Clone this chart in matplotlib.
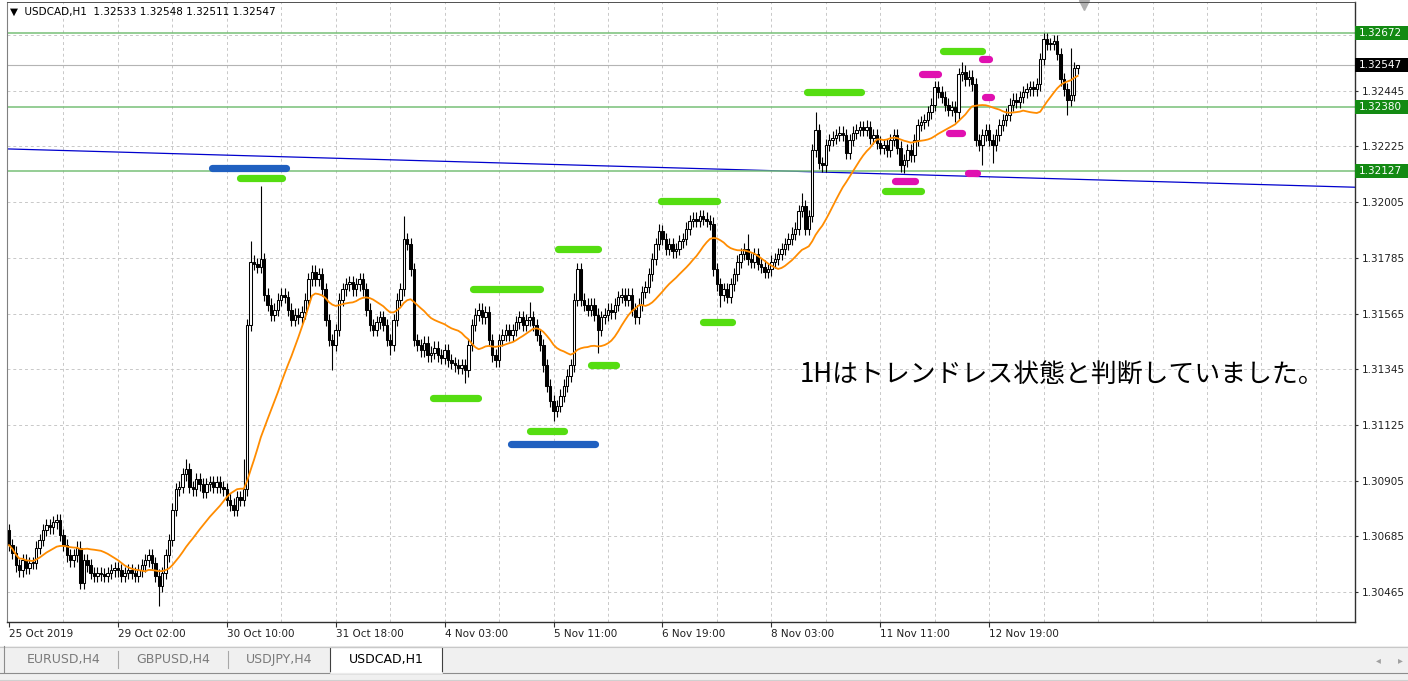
import numpy as np
import pandas as pd
import matplotlib
matplotlib.use('Agg')
import matplotlib.pyplot as plt
from matplotlib.patches import Rectangle
from matplotlib.transforms import blended_transform_factory

# USDCAD H1 closes, in pips above 1.3000
close_pips = [
    65, 62, 57, 55, 59, 56, 58, 58, 64, 67,
    71, 73, 72, 74, 75, 69, 65, 61, 59, 61,
    64, 50, 59, 57, 54, 53, 54, 53.5, 53, 54,
    55, 56, 55, 53, 54, 55, 54, 53, 55, 57,
    59, 61, 58, 53, 49, 54, 61, 67, 79, 87,
    88, 93, 95, 88, 87, 91, 89, 86, 89, 90,
    88, 90, 88, 87, 83, 81, 79, 84, 83, 87,
    152, 177, 176, 175, 178, 164, 160, 156, 158, 162,
    164, 163, 158, 154, 156, 155, 157, 162, 170, 173,
    170, 172, 166, 154, 146, 144, 150, 162, 166, 168,
    169, 166, 168, 170, 166, 158, 152, 150, 153, 155,
    152, 146, 144, 154, 162, 166, 186, 184, 174, 146,
    144, 142, 145, 140, 141, 143, 140, 139, 142, 138,
    137, 136, 135, 136, 134, 144, 152, 156, 158, 155,
    157, 146, 140, 138, 146, 148, 150, 148, 150, 153,
    155, 152, 154, 155, 152, 148, 144, 136, 128, 122,
    118, 120, 124, 128, 132, 136, 162, 174, 162, 160,
    158, 160, 156, 150, 155, 156, 158, 157, 160, 163,
    164, 162, 164, 158, 155, 160, 165, 167, 172, 178,
    184, 189, 186, 182, 184, 181, 182, 185, 186, 190,
    193, 194, 193, 195, 194, 193, 192, 174, 168, 164,
    166, 163, 168, 172, 177, 180, 182, 178, 177, 180,
    176, 175, 173, 174, 177, 178, 180, 182, 184, 186,
    188, 190, 197, 199, 190, 195, 221, 229, 216, 215,
    223, 225, 226, 227, 228, 227, 220, 225, 228, 229,
    230, 229, 230, 226, 227, 224, 222, 223, 221, 225,
    227, 222, 215, 217, 221, 219, 225, 231, 232, 233,
    236, 239, 246, 244, 242, 239, 237, 238, 236, 251,
    252, 249, 250, 247, 225, 223, 227, 229, 225, 223,
    227, 231, 233, 235, 239, 241, 240, 242, 244, 245,
    246, 245, 247, 257, 265, 263, 263, 264, 259, 249,
    245, 241, 243, 253.3, 254.7,
]
first_open_pips = 71
wick_pips = 2.5
spike_high_pips = {52: 99, 69: 99, 71: 185, 74: 207, 116: 195, 153: 161, 191: 192,
                   217: 188, 233: 204, 237: 236, 252: 233, 280: 256, 305: 267.3,
                   312: 261.5, 314: 254.8}
spike_low_pips = {44: 41, 95: 134, 112: 140, 134: 129, 160: 114, 173: 141, 209: 159,
                  263: 212, 278: 232, 286: 215, 289: 216, 311: 235, 314: 251.1}
ma_period = 20

date_labels = ['25 Oct 2019', '29 Oct 02:00', '30 Oct 10:00', '31 Oct 18:00', '4 Nov 03:00',
               '5 Nov 11:00', '6 Nov 19:00', '8 Nov 03:00', '11 Nov 11:00', '12 Nov 19:00']
price_ticks = [1.30465, 1.30685, 1.30905, 1.31125, 1.31345, 1.31565,
               1.31785, 1.32005, 1.32225, 1.32445]
green_levels = [1.32672, 1.32380, 1.32127]
trend_pts = [(0, 1.32215), (314, 1.32095)]

# hand-drawn markers: (start bar, end bar, price)
green_marks = [(68.0, 80.1, 1.3210), (136.2, 155.9, 1.3166), (124.7, 137.7, 1.3123),
               (161.2, 173.2, 1.3182), (153.2, 163.2, 1.3110), (170.9, 178.5, 1.3136),
               (191.7, 207.9, 1.3201), (203.8, 212.3, 1.3153), (234.4, 250.2, 1.3244),
               (257.3, 268.1, 1.3205), (274.3, 285.8, 1.3260)]
blue_marks = [(59.5, 81.5, 1.3214), (147.4, 172.1, 1.3105)]
pink_marks = [(260.2, 266.1, 1.3209), (268.4, 272.9, 1.3251), (285.8, 288.1, 1.3257),
              (286.9, 288.4, 1.3242), (276.1, 279.9, 1.3228), (281.7, 284.3, 1.3212)]

note = '1Hはトレンドレス状態と判断していました。'
tabs = ['EURUSD,H4', 'GBPUSD,H4', 'USDJPY,H4', 'USDCAD,H1']

closes = 1.3 + np.array(close_pips) / 1e4
n = len(closes)
opens = np.r_[1.3 + first_open_pips / 1e4, closes[:-1]]
highs = np.maximum(opens, closes) + wick_pips / 1e4
lows = np.minimum(opens, closes) - wick_pips / 1e4
for k, v in spike_high_pips.items():
    highs[k] = 1.3 + v / 1e4
for k, v in spike_low_pips.items():
    lows[k] = 1.3 + v / 1e4
ma = pd.Series(closes).rolling(ma_period, min_periods=1).mean()

W, H = 1408, 681
fig = plt.figure(figsize=(W / 100, H / 100), dpi=100)
fig.patch.set_facecolor('white')

# MT4 window chrome (tabs)
ui = fig.add_axes([0, 0, 1, 1])
ui.set_xlim(0, W)
ui.set_ylim(H, 0)
ui.axis('off')
ui.set_zorder(-1)
ui.add_patch(Rectangle((0, 646), W, 35, facecolor='#F0F0F0', edgecolor='none'))
ui.plot([0, W], [646.5, 646.5], color='#C8C8C8', lw=0.8)
ui.plot([0, W], [672.5, 672.5], color='#8C8C8C', lw=0.8)
ui.plot([0, W], [679.5, 679.5], color='#D0D0D0', lw=0.8)
ui.plot([3.5, 3.5], [646, 672], color='#8C8C8C', lw=0.8)
ui.add_patch(Rectangle((330, 646.5), 112, 26, facecolor='white', edgecolor='#404040', lw=0.8))
ui.plot([330.5, 441.5], [672.5, 672.5], color='white', lw=1.2)
for sx in [118, 228]:
    ui.plot([sx, sx], [651, 668], color='#A8A8A8', lw=0.8)
for tx, t in zip([64, 173, 279, 386], tabs):
    ui.text(tx, 660, t, ha='center', va='center', fontsize=9,
            color='black' if t == tabs[-1] else '#7A7A7A')
ui.text(1378, 660, '◂', ha='center', va='center', fontsize=7, color='#A0A0A0')
ui.text(1400, 660, '▸', ha='center', va='center', fontsize=7, color='#A0A0A0')

ax = fig.add_axes([7 / W, (H - 622) / H, (1355 - 7) / W, (622 - 2) / H])
ax.set_xlim(-0.59, 395.5)
ax.set_ylim(1.303465, 1.327955)

grid_kw = dict(color='#C8C8C8', lw=0.7, linestyle=(0, (3, 3)), zorder=0)
for b in range(16, 396, 16):
    ax.axvline(b, **grid_kw)
for p in price_ticks + [1.32665]:
    ax.axhline(p, **grid_kw)

ax.axline(trend_pts[0], trend_pts[1], color='#0000CD', lw=0.9, zorder=1)
for lvl in green_levels:
    ax.axhline(lvl, color='#78C078', lw=1.1, zorder=1)
ax.axhline(closes[-1], color='#B4B4B4', lw=0.8, zorder=1)

x = np.arange(n)
up = closes >= opens
ax.vlines(x, lows, highs, color='black', lw=0.8, zorder=3)
ax.bar(x, np.maximum(np.abs(closes - opens), 0.00002), bottom=np.minimum(opens, closes),
       width=0.72, color=np.where(up, 'white', 'black'), edgecolor='black',
       linewidth=0.75, zorder=4)
ax.plot(x, ma, color='#FF8C00', lw=1.3, zorder=5)

for marks, col in [(green_marks, '#55DD11'), (blue_marks, '#2060C0'), (pink_marks, '#E010B0')]:
    for x0, x1, p in marks:
        ax.plot([x0, x1], [p, p], color=col, lw=5.2, solid_capstyle='round', zorder=6)

ax.text(232.4, 1.31322, note, family=['Noto Sans CJK JP', 'DejaVu Sans'], fontsize=18.6,
        va='center', ha='left', zorder=7)

ax.text(3 / 1348, 1 - 10 / 620,
        f'▼  USDCAD,H1  {opens[-1]:.5f} {highs[-1]:.5f} {lows[-1]:.5f} {closes[-1]:.5f}',
        transform=ax.transAxes, fontsize=7.5, va='center', ha='left', zorder=8)
ax.plot([315.9], [0.995], marker='v', color='#B0B0B0', markersize=7, clip_on=False,
        transform=blended_transform_factory(ax.transData, ax.transAxes))

# price boxes on the right scale
bt = blended_transform_factory(ax.transAxes, ax.transData)
box_h = 0.00028
for lvl, bg in [(l, '#138A13') for l in green_levels] + [(closes[-1], 'black')]:
    ax.add_patch(Rectangle((1.0, lvl - box_h), 60 / 1348, 2 * box_h, transform=bt,
                           facecolor=bg, edgecolor='none', clip_on=False, zorder=9))
    ax.text(1.0 + 4 / 1348, lvl, f'{lvl:.5f}', transform=bt, color='white', fontsize=7.5,
            va='center', ha='left', clip_on=False, zorder=10)

ax.yaxis.tick_right()
ax.set_yticks(price_ticks)
ax.set_yticklabels([f'{p:.5f}' for p in price_ticks])
ax.tick_params(axis='y', direction='out', length=2.5, pad=2.5, labelsize=7.5,
               color='#303030', labelcolor='#202020')
ax.set_xticks(range(0, 289, 32))
ax.set_xticklabels(date_labels, ha='left')
ax.tick_params(axis='x', direction='out', length=3.6, pad=1.5, labelsize=7.5,
               color='#303030', labelcolor='#202020')
for s in ['right', 'bottom']:
    ax.spines[s].set_color('#303030')
    ax.spines[s].set_linewidth(1.0)
ax.spines['left'].set_color('#808080')
ax.spines['top'].set_color('#505050')
ax.spines['top'].set_linewidth(0.7)

fig.savefig('out.png', dpi=100)
